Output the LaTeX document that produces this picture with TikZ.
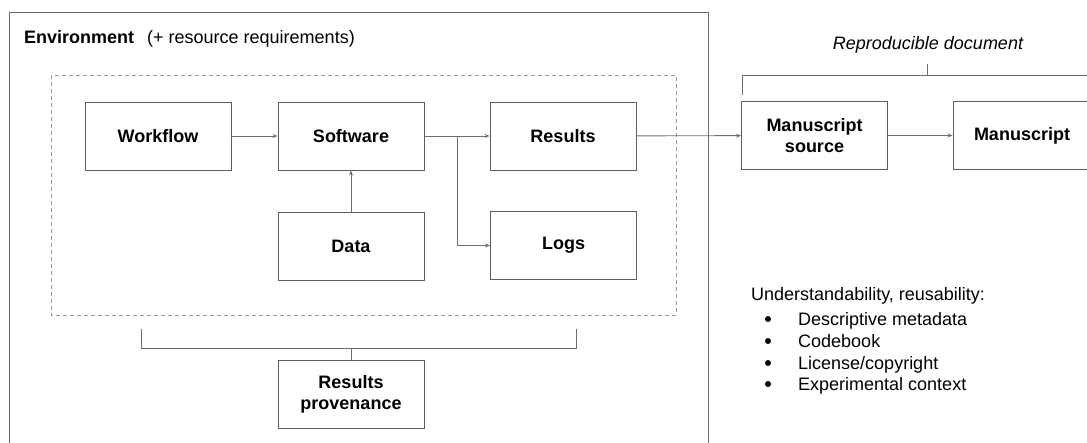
\documentclass[tikz,border=0pt]{standalone}
\usepackage{fontspec}
\setmainfont{Liberation Sans}
\usetikzlibrary{arrows.meta}
\definecolor{boxc}{HTML}{5E5E5E}
\definecolor{arrc}{HTML}{6E6E6E}
\definecolor{envc}{HTML}{6A6A6A}
\definecolor{dashc}{HTML}{9A9A9A}
\tikzset{
  x=1pt, y=-1pt,
  stepbox/.style={draw=boxc, line width=0.9pt, minimum width=146pt, minimum height=68pt,
    inner sep=0pt, align=center, font=\fontsize{18}{21.5}\selectfont\bfseries},
  conn/.style={draw=arrc, line width=0.9pt, -{Stealth[length=5pt,width=4pt]}},
  plain/.style={draw=arrc, line width=0.9pt},
  txt/.style={inner sep=0pt, font=\fontsize{18}{21.5}\selectfont},
}
\begin{document}
\begin{tikzpicture}
\useasboundingbox (0,0) rectangle (1087,442);
% environment box (open bottom)
\draw[envc, line width=1pt] (9,450) -- (9,12) -- (708,12) -- (708,450);
\node[txt, anchor=base west] (envlabel) at (24,43) {\textbf{Environment}\hspace{13pt}(+ resource requirements)};
% dashed inner box
\draw[dashc, line width=0.9pt, dash pattern=on 4pt off 3pt] (51,75) rectangle (676,315);
% nodes
\node[stepbox] (wf) at (158,136) {Workflow};
\node[stepbox] (sw) at (351,136) {Software};
\node[stepbox] (res) at (563,136) {Results};
\node[stepbox] (logs) at (563.5,245.5) {Logs};
\node[stepbox] (data) at (351,246.5) {Data};
\node[stepbox] (ms) at (814.5,135.5) {Manuscript\\source};
\node[stepbox, minimum width=138pt] (man) at (1022,135.5) {Manuscript};
\node[stepbox] (prov) at (351,394.5) {Results\\provenance};
% connectors
\draw[conn] (wf) -- (sw);
\draw[conn] (data) -- (sw);
\coordinate (br) at (457,136);
\draw[conn] (sw) -- (res);
\draw[conn] (br) |- (logs.west);
\draw[conn] (res) -- (ms);
\draw[conn] (ms) -- (man);
% bottom bracket
\coordinate (bl) at (141,329);
\coordinate (brr) at (576,329);
\draw[plain] (bl) -- (141,348) -- (576,348) -- (brr);
\draw[plain] (prov.north) -- (351,348);
% top bracket
\coordinate (tl) at (742,95);
\coordinate (tr) at (1095,75);
\draw[plain] (tl) -- (742,75) -- (tr);
\node[txt, font=\fontsize{18}{21.5}\selectfont\itshape, anchor=base] (repro) at (928,49) {Reproducible document};
\draw[plain] (927,75) -- (927,64);
% list
\node[txt, anchor=base west] (lhead) at (751,300) {Understandability, reusability:};
\node[txt, anchor=base west] (l1) at (798,325) {Descriptive metadata};
\node[txt, anchor=base west] (l2) at (798,347) {Codebook};
\node[txt, anchor=base west] (l3) at (798,369) {License/copyright};
\node[txt, anchor=base west] (l4) at (798,390) {Experimental context};
\foreach \n in {l1,l2,l3,l4}{
  \fill (768,0 |- \n.base) ++(0,-6) circle (3pt);
}
\end{tikzpicture}
\end{document}
